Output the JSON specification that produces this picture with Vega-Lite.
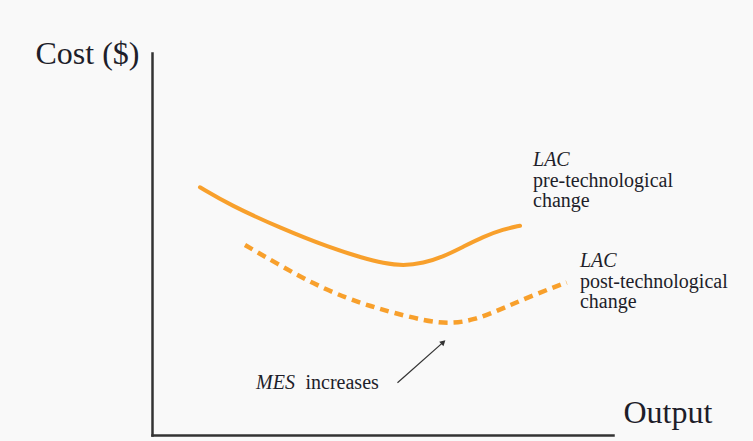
{
  "$schema": "https://vega.github.io/schema/vega-lite/v6.json",
  "autosize": {"type": "none"},
  "width": 461,
  "height": 382,
  "padding": {"left": 152, "top": 53, "right": 140, "bottom": 6},
  "background": "#f9f9f9",
  "config": {
    "view": {"stroke": null},
    "font": "Liberation Serif",
    "text": {"font": "Liberation Serif"}
  },
  "datasets": {
    "curves": [
      {"curve": "pre", "output": 10.41, "cost": 64.84},
      {"curve": "pre", "output": 16.92, "cost": 60.21},
      {"curve": "pre", "output": 27.77, "cost": 54.2},
      {"curve": "pre", "output": 38.61, "cost": 49.0},
      {"curve": "pre", "output": 45.84, "cost": 46.3},
      {"curve": "pre", "output": 50.17, "cost": 45.0},
      {"curve": "pre", "output": 54.51, "cost": 44.3},
      {"curve": "pre", "output": 58.85, "cost": 45.0},
      {"curve": "pre", "output": 63.19, "cost": 46.68},
      {"curve": "pre", "output": 67.53, "cost": 49.29},
      {"curve": "pre", "output": 71.87, "cost": 51.91},
      {"curve": "pre", "output": 76.2, "cost": 53.85},
      {"curve": "pre", "output": 79.83, "cost": 54.79},
      {"curve": "post", "output": 20.17, "cost": 49.74},
      {"curve": "post", "output": 27.77, "cost": 44.4},
      {"curve": "post", "output": 34.99, "cost": 39.6},
      {"curve": "post", "output": 42.23, "cost": 35.8},
      {"curve": "post", "output": 47.5, "cost": 33.7},
      {"curve": "post", "output": 52.34, "cost": 32.0},
      {"curve": "post", "output": 59.22, "cost": 29.9},
      {"curve": "post", "output": 64.43, "cost": 29.1},
      {"curve": "post", "output": 69.7, "cost": 30.0},
      {"curve": "post", "output": 76.2, "cost": 33.17},
      {"curve": "post", "output": 82.71, "cost": 36.65},
      {"curve": "post", "output": 89.96, "cost": 39.92}
    ],
    "arrow": [
      {"from_output": 53.25, "from_cost": 13.66, "to_output": 63.2, "to_cost": 24.3}
    ],
    "labels": [
      {"label": "LAC", "output": 82.65, "cost": 70.42},
      {"label": "pre-technological", "output": 82.65, "cost": 65.0},
      {"label": "change", "output": 82.65, "cost": 59.6},
      {"label": "LAC", "output": 92.84, "cost": 43.98},
      {"label": "post-technological", "output": 92.84, "cost": 38.56},
      {"label": "change", "output": 92.84, "cost": 33.2},
      {"label": "MES", "output": 22.56, "cost": 12.04},
      {"label": "increases", "output": 33.3, "cost": 12.04}
    ]
  },
  "encoding": {
    "x": {
      "field": "output", "type": "quantitative",
      "scale": {"domain": [0, 100], "nice": false, "zero": false},
      "axis": {
        "title": "Output", "domain": true, "domainColor": "#333333", "domainWidth": 2.5, "domainCap": "square",
        "ticks": false, "labels": false, "grid": false,
        "titleFont": "Liberation Serif", "titleFontSize": 32, "titleFontWeight": "normal", "titleColor": "#1e1e2a",
        "titleAlign": "left", "titleBaseline": "alphabetic", "titleX": 471, "titleY": -13
      }
    },
    "y": {
      "field": "cost", "type": "quantitative",
      "scale": {"domain": [0, 100], "nice": false, "zero": false},
      "axis": {
        "title": "Cost ($)", "domain": true, "domainColor": "#333333", "domainWidth": 2.5, "domainCap": "square",
        "ticks": false, "labels": false, "grid": false,
        "titleFont": "Liberation Serif", "titleFontSize": 32, "titleFontWeight": "normal", "titleColor": "#1e1e2a",
        "titleAngle": 0, "titleAlign": "left", "titleBaseline": "alphabetic", "titleX": -117, "titleY": 10
      }
    }
  },
  "layer": [
    {
      "data": {"name": "curves"},
      "transform": [{"filter": "datum.curve === 'pre'"}],
      "mark": {"type": "line", "interpolate": "basis", "color": "#f8a02c", "strokeWidth": 4, "strokeCap": "round"}
    },
    {
      "data": {"name": "curves"},
      "transform": [{"filter": "datum.curve === 'post'"}],
      "mark": {"type": "line", "interpolate": "basis", "color": "#f8a02c", "strokeWidth": 4.5, "strokeDash": [9, 6]}
    },
    {
      "data": {"name": "arrow"},
      "mark": {"type": "rule", "color": "#333333", "strokeWidth": 1.2},
      "encoding": {
        "x": {"field": "from_output", "type": "quantitative"},
        "y": {"field": "from_cost", "type": "quantitative"},
        "x2": {"field": "to_output"},
        "y2": {"field": "to_cost"}
      }
    },
    {
      "data": {"name": "arrow"},
      "mark": {"type": "point", "shape": "triangle-up", "filled": true, "color": "#333333", "size": 40, "angle": 48, "opacity": 1},
      "encoding": {
        "x": {"field": "to_output", "type": "quantitative"},
        "y": {"field": "to_cost", "type": "quantitative"}
      }
    },
    {
      "data": {"name": "labels"},
      "transform": [{"filter": "datum.label === 'LAC' || datum.label === 'MES'"}],
      "mark": {"type": "text", "align": "left", "baseline": "alphabetic", "font": "Liberation Serif", "fontSize": 20, "fontStyle": "italic", "color": "#1e1e2a"},
      "encoding": {"text": {"field": "label"}}
    },
    {
      "data": {"name": "labels"},
      "transform": [{"filter": "datum.label !== 'LAC' && datum.label !== 'MES'"}],
      "mark": {"type": "text", "align": "left", "baseline": "alphabetic", "font": "Liberation Serif", "fontStyle": "normal", "fontSize": 20, "color": "#1e1e2a"},
      "encoding": {"text": {"field": "label"}}
    }
  ]
}
